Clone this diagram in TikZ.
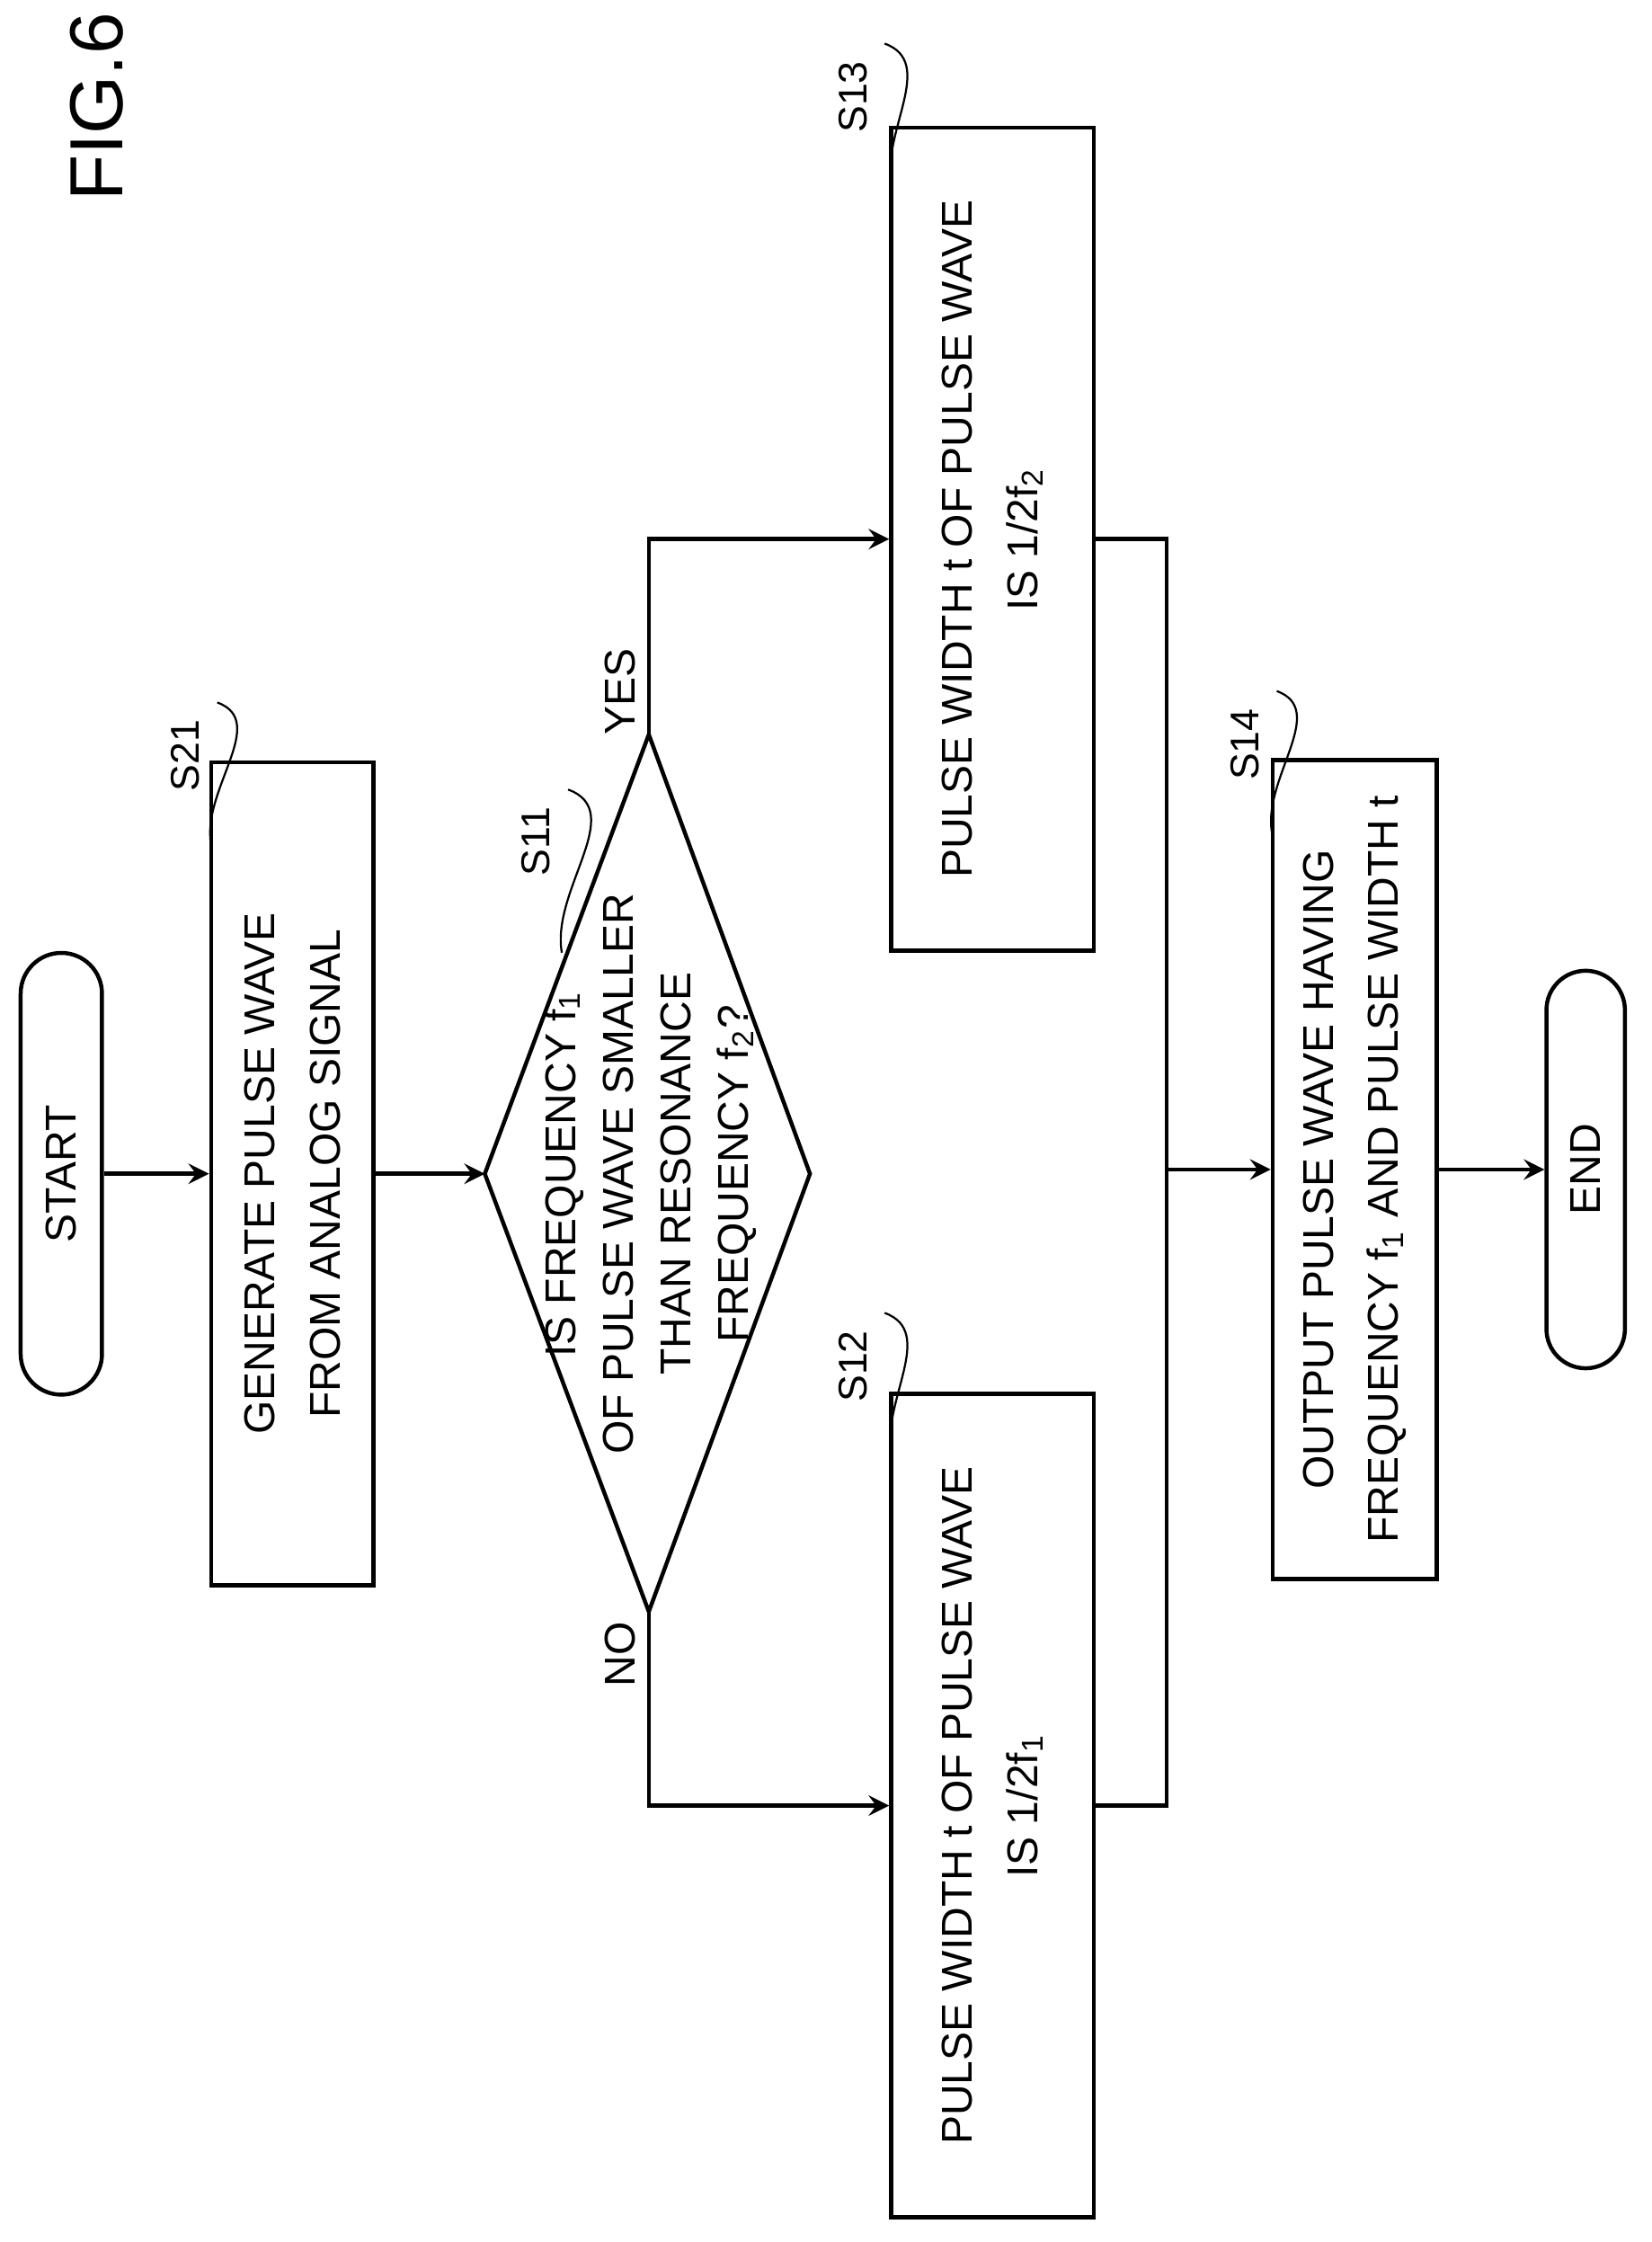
\documentclass[tikz,border=0pt]{standalone}
\usepackage{fontspec}
\setmainfont{Liberation Sans}
\usetikzlibrary{shapes.misc}
\begin{document}
\begin{tikzpicture}[x=0.01cm, y=-0.01cm,
    box/.style={draw, thick, rotate=90, align=center, inner sep=2pt,
      font=\fontsize{8.6}{13}\selectfont},
    term/.style={draw, thick, rounded rectangle, rotate=90, font=\fontsize{8.6}{11}\selectfont},
    stepno/.style={rotate=90, font=\fontsize{8}{10}\selectfont},
    arr/.style={->, >=stealth, thick}]

      \useasboundingbox (0,0) rectangle (1158,1572);

      \node[rotate=90, font=\fontsize{15}{18}\selectfont] (fig) at (68,75) {FIG.6};

      \node[term, minimum width=3.33cm, minimum height=0.57cm] (start) at (43,823) {START};
      \node[box, minimum width=5.77cm, minimum height=1.14cm] (s21) at (205,823)
        {GENERATE PULSE WAVE\\FROM ANALOG SIGNAL};

      % decision
      \coordinate (s11l) at (340,823);
      \coordinate (s11r) at (568,823);
      \coordinate (s11t) at (455,515);
      \coordinate (s11b) at (455,1130);
      \draw[thick] (s11l) -- (s11t) -- (s11r) -- (s11b) -- cycle;
      \node[box, draw=none, font=\fontsize{8.6}{11.5}\selectfont] (s11) at (456,823)
        {IS FREQUENCY f\textsubscript{1}\\OF PULSE WAVE SMALLER\\THAN RESONANCE\\FREQUENCY f\textsubscript{2}?};

      \node[box, minimum width=5.77cm, minimum height=1.42cm] (s13) at (696,378)
        {PULSE WIDTH t OF PULSE WAVE\\IS 1/2f\textsubscript{2}};
      \node[box, minimum width=5.77cm, minimum height=1.42cm] (s12) at (696,1266)
        {PULSE WIDTH t OF PULSE WAVE\\IS 1/2f\textsubscript{1}};
      \node[box, minimum width=5.74cm, minimum height=1.15cm] (s14) at (950,820)
        {OUTPUT PULSE WAVE HAVING\\FREQUENCY f\textsubscript{1} AND PULSE WIDTH t};
      \node[term, minimum width=3.02cm, minimum height=0.55cm] (end) at (1112,820) {END};

      \coordinate (merge) at (818,820);

      % step labels
      \node[stepno] (l21) at (130,530) {S21};
      \node[stepno] (l11) at (376,590) {S11};
      \node[stepno] (l13) at (598,68) {S13};
      \node[stepno] (l12) at (598,958) {S12};
      \node[stepno] (l14) at (873,522) {S14};
      \draw (l21.south east) to[out=-20, in=100] (148,592);
      \draw (l11.south east) to[out=-20, in=100] (394,668);
      \draw (l13.south east) to[out=-20, in=100] (625,130);
      \draw (l12.south east) to[out=-20, in=100] (625,1020);
      \draw (l14.south east) to[out=-20, in=100] (892,584);

      \node[stepno, font=\fontsize{8.6}{11}\selectfont] (yes) at (435,485) {YES};
      \node[stepno, font=\fontsize{8.6}{11}\selectfont] (no) at (435,1160) {NO};

      \draw[arr] (start.south) -- (s21.north);
      \draw[arr] (s21.south) -- (s11l);
      \draw[arr] (s11t) |- (s13.north);
      \draw[arr] (s11b) |- (s12.north);
      \draw[thick] (s13.south) -| (merge);
      \draw[thick] (s12.south) -| (merge);
      \draw[arr] (merge) -- (s14.north);
      \draw[arr] (s14.south) -- (end.north);

    \end{tikzpicture}
\end{document}
